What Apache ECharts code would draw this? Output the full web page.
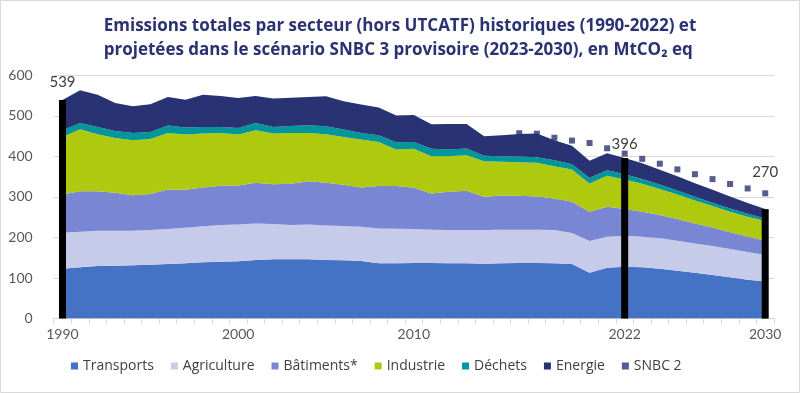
<!DOCTYPE html>
<html><head><meta charset="utf-8">
<script src="https://cdn.jsdelivr.net/npm/echarts/dist/echarts.min.js"></script>
<style>html,body{margin:0;padding:0;background:#fff}#c{width:800px;height:393px}</style>
</head><body><div id="c"></div>
<script>
const years = ['1990','1991','1992','1993','1994','1995','1996','1997','1998','1999',
  '2000','2001','2002','2003','2004','2005','2006','2007','2008','2009',
  '2010','2011','2012','2013','2014','2015','2016','2017','2018','2019',
  '2020','2021','2022','2023','2024','2025','2026','2027','2028','2029','2030'];
const shownYearLabels = ['1990','2000','2010','2022','2030'];

const transports = [123.1,126.4,129.7,130.5,131.4,133.0,134.6,136.3,139.0,140.4,141.2,144.5,146.1,146.1,146.1,144.5,143.7,142.0,136.3,136.3,137.1,137.1,136.3,136.3,135.5,136.3,137.1,137.1,136.3,134.6,113.3,125.6,128.1,126.4,123.2,118.2,113.3,107.6,101.8,96.1,91.2];
const agriculture = [88.7,87.8,87.0,86.2,85.3,85.3,86.2,87.8,89.0,90.2,91.1,90.2,87.0,84.5,86.2,85.3,84.5,84.5,86.1,85.3,83.7,82.1,82.0,82.0,82.8,82.9,82.1,82.1,82.0,76.3,78.0,76.3,76.3,75.5,74.7,73.9,72.2,71.4,69.8,68.1,65.6];
const batiments = [94.3,100.1,97.6,93.5,87.8,88.7,97.6,93.5,95.0,96.9,96.0,100.2,98.5,101.8,106.7,105.1,102.1,96.9,104.3,105.1,101.7,89.4,94.4,96.9,82.1,84.5,83.7,82.0,78.0,77.2,72.2,73.9,65.6,61.6,57.4,53.3,49.3,45.5,41.5,38.0,35.3];
const industrie = [142.0,152.7,140.4,135.4,135.4,136.2,139.6,136.2,133.3,130.5,125.5,129.6,124.7,125.6,119.0,119.8,117.8,118.1,109.1,90.2,96.1,91.9,87.8,87.8,87.8,82.9,82.8,82.9,79.6,79.6,69.7,76.3,73.0,69.0,64.5,60.5,56.5,53.0,50.5,49.0,48.4];
const dechets = [16.4,15.6,18.0,17.3,18.0,17.2,18.0,17.3,16.2,14.7,16.5,18.1,16.4,17.2,18.8,19.7,18.4,16.4,16.4,18.1,17.2,18.1,16.4,16.4,13.1,13.9,14.0,13.9,14.8,13.1,14.0,13.9,13.0,12.0,11.0,10.0,9.0,8.5,8.0,7.3,6.6];
const energie = [74.5,80.4,79.6,68.9,65.7,68.1,70.6,68.9,79.8,76.3,73.8,66.4,69.8,69.7,69.8,73.8,69.5,69.8,68.1,65.6,66.5,60.7,63.2,60.7,48.7,51.5,55.3,58.3,49.3,45.2,41.8,42.0,40.0,38.5,36.2,35.1,33.7,32.0,29.4,26.5,22.9];

const snbc2Years = ['2016','2017','2018','2019','2020','2021','2022','2023','2024','2025','2026','2027','2028','2029','2030'];
const snbc2 = [457,456,446,439,433,420,407,394,382,368,356,344,332,321,309];

const totalYears = ['1990','2022','2030'];
const totalValues = [539,396,270];

const FONT = 'Lato, "Open Sans", sans-serif';
const FONT2 = '"Open Sans", Lato, sans-serif';
const sectors = [
  {name:'Transports', data:transports, color:'#4472C4'},
  {name:'Agriculture', data:agriculture, color:'#C6CBEA'},
  {name:'Bâtiments*', data:batiments, color:'#7986D3'},
  {name:'Industrie', data:industrie, color:'#AEC90E'},
  {name:'Déchets', data:dechets, color:'#01979A'},
  {name:'Energie', data:energie, color:'#293374'}
];
const labelGap = [10, 6, 29];

const series = sectors.map(s => ({
  name: s.name, type: 'line', stack: 'tot', data: s.data,
  showSymbol: false, symbol: 'none', lineStyle: {width: 0},
  areaStyle: {color: s.color, opacity: 1}, itemStyle: {color: s.color},
  emphasis: {disabled: true}
}));
const barData = years.map(() => null);
totalYears.forEach((y, i) => {
  barData[years.indexOf(y)] = {value: totalValues[i], label: {distance: labelGap[i]}};
});
series.push({
  name: 'Total', type: 'bar', data: barData, barWidth: 7, clip: false, z: 5,
  itemStyle: {color: '#000'},
  label: {show: true, position: 'top', color: '#404040', fontSize: 15, fontFamily: FONT},
  emphasis: {disabled: true}
});
series.push({
  name: 'SNBC 2', type: 'scatter', symbol: 'rect', symbolSize: 6, z: 6,
  itemStyle: {color: '#293374'},
  data: snbc2Years.map((y, i) => [y, snbc2[i]]),
  emphasis: {disabled: true}
});

const chart = echarts.init(document.getElementById('c'), null, {renderer: 'canvas'});
chart.setOption({
  animation: false,
  backgroundColor: '#fff',
  title: {
    text: 'Emissions totales par secteur (hors UTCATF) historiques (1990-2022) et\nprojetées dans le scénario SNBC 3 provisoire (2023-2030), en MtCO₂ eq',
    left: 'center', top: 9, textAlign: 'left',
    textStyle: {color: '#2B3272', fontSize: 17, fontWeight: 'bold', fontFamily: FONT2, lineHeight: 24, align: 'center'}
  },
  graphic: [{type: 'rect', shape: {x: 0.5, y: 0.5, width: 799, height: 392}, style: {fill: 'none', stroke: '#d9d9d9', lineWidth: 1}, silent: true}],
  legend: {
    data: ['Transports','Agriculture','Bâtiments*','Industrie','Déchets','Energie','SNBC 2'],
    left: 66, top: 354, icon: 'rect', itemWidth: 7, itemHeight: 7, itemGap: 17,
    textStyle: {color: '#404040', fontSize: 14, fontFamily: FONT2},
    selectedMode: false
  },
  grid: {left: 53.7, right: 26, top: 75.3, bottom: 74.4, containLabel: false},
  xAxis: {
    type: 'category', data: years, boundaryGap: true,
    axisLine: {show: true, lineStyle: {color: '#d9d9d9', width: 1}},
    axisTick: {show: true, interval: 0, length: 5, lineStyle: {color: '#d9d9d9'}},
    axisLabel: {interval: (i, v) => shownYearLabels.includes(v), color: '#595959', fontSize: 14, fontFamily: FONT, margin: 9},
    splitLine: {show: false}
  },
  yAxis: {
    type: 'value', min: 0, max: 600, interval: 100,
    axisLine: {show: false}, axisTick: {show: false},
    axisLabel: {color: '#595959', fontSize: 14, fontFamily: FONT, margin: 21},
    splitLine: {show: true, lineStyle: {color: '#d9d9d9', width: 1}}
  },
  series: series
});
</script></body></html>
